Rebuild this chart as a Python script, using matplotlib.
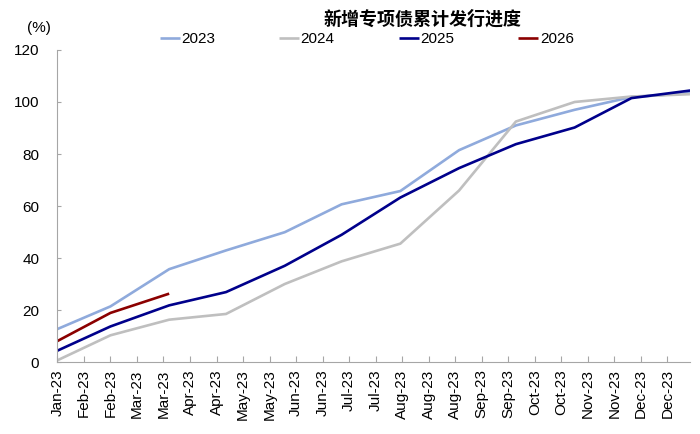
import datetime as dt
import matplotlib
matplotlib.use("Agg")
import matplotlib.pyplot as plt
import matplotlib.dates as mdates

plt.rcParams['font.family'] = ['Liberation Sans', 'Noto Sans CJK SC', 'DejaVu Sans']

# fim de cada mes (eixo em datas de 2023)
meses = [dt.date(2023, 1, 31), dt.date(2023, 2, 28), dt.date(2023, 3, 31), dt.date(2023, 4, 30),
         dt.date(2023, 5, 31), dt.date(2023, 6, 30), dt.date(2023, 7, 31), dt.date(2023, 8, 31),
         dt.date(2023, 9, 30), dt.date(2023, 10, 31), dt.date(2023, 11, 30), dt.date(2023, 12, 31)]

s2023 = [12.8, 21.5, 35.8, 43.0, 50.0, 60.7, 65.8, 81.5, 91.0, 97.0, 101.9, 103.4]
s2024 = [0.8, 10.4, 16.4, 18.6, 30.1, 38.8, 45.6, 66.0, 92.5, 100.0, 102.1, 103.0]
s2025 = [4.5, 13.8, 21.9, 27.0, 37.1, 49.0, 63.3, 74.6, 83.8, 90.2, 101.5, 104.4]
s2026 = [8.2, 19.0, 26.4]

series = [("2023", s2023, "#8FAADC"), ("2024", s2024, "#BFBFBF"),
          ("2025", s2025, "#00008B"), ("2026", s2026, "#8B0000")]

fig = plt.figure(figsize=(7, 4.34), dpi=100)
ax = fig.add_axes([0.082, 0.165, 0.904, 0.72])

for nome, vals, cor in series:
    ax.plot(meses[:len(vals)], vals, color=cor, lw=1.9, label=nome, solid_capstyle="butt")

# ticks a cada 14 dias a partir de 31/jan
inicio = mdates.date2num(dt.date(2023, 1, 31))
ax.set_xticks([inicio + 14 * k for k in range(24)])
ax.xaxis.set_major_formatter(mdates.DateFormatter("%b-%y"))
ax.set_xlim(inicio, mdates.date2num(dt.date(2023, 12, 31)))
ax.set_ylim(0, 120)
ax.set_yticks(range(0, 121, 20))

for lado in ["top", "right"]:
    ax.spines[lado].set_visible(False)
for lado in ["left", "bottom"]:
    ax.spines[lado].set_color("#A6A6A6")
    ax.spines[lado].set_linewidth(0.8)
ax.tick_params(axis="x", rotation=90, labelsize=11, direction="in", length=4,
               color="#A6A6A6", width=0.8, pad=5)
ax.tick_params(axis="y", labelsize=11, direction="in", length=3,
               color="#A6A6A6", width=0.8, pad=13)

fig.text(0.056, 0.935, "(%)", fontsize=11, ha="center", va="center")
fig.text(0.603, 0.955, "新增专项债累计发行进度", fontsize=13, fontweight="bold",
         ha="center", va="center", family=['Noto Sans CJK SC', 'DejaVu Sans'])

fig.legend(loc="center", bbox_to_anchor=(0.524, 0.909), ncol=4, frameon=False,
           fontsize=11, handlelength=1.3, handletextpad=0.1, columnspacing=4.2)

fig.savefig("out.png", dpi=100)
